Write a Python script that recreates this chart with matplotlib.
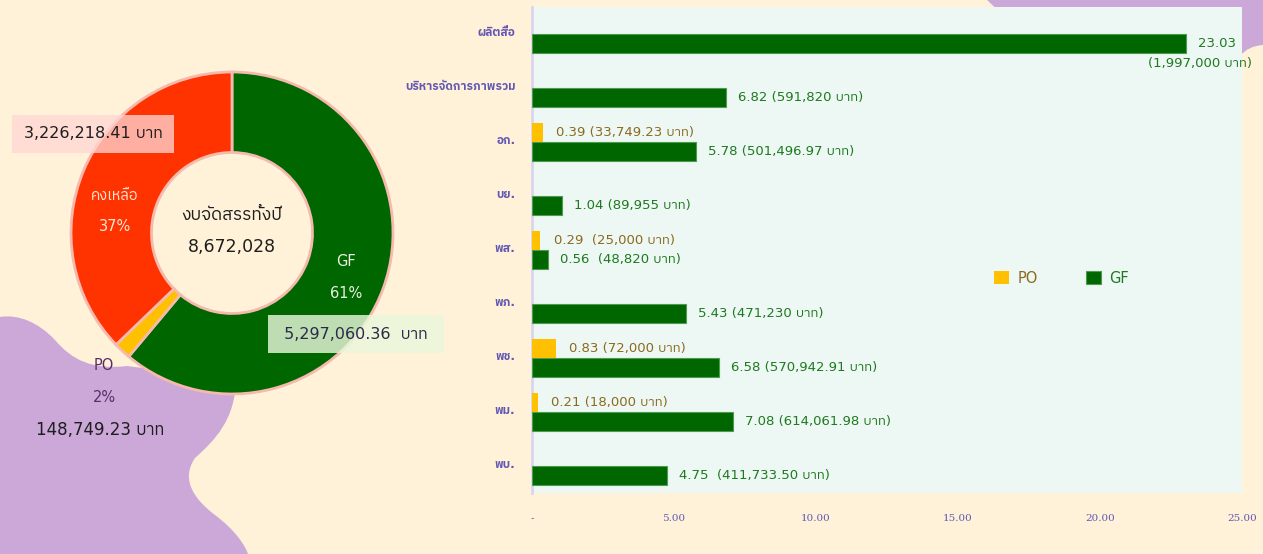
import matplotlib
matplotlib.use("Agg")
import matplotlib.pyplot as plt
import matplotlib.transforms as mtransforms
from matplotlib import font_manager, ft2font
from matplotlib.path import Path
from matplotlib.patches import PathPatch
import numpy as np

# ---------------- data ----------------
pie_labels = ["GF", "PO", "คงเหลือ"]
pie_values = [5297060.36, 148749.23, 3226218.41]
pie_pct = ["61%", "2%", "37%"]
pie_amounts = [" 5,297,060.36  บาท ", "148,749.23 บาท", "3,226,218.41 บาท"]
total_label = "8,672,028"
center_title = "งบจัดสรรทั้งปี"

categories = ["ผลิตสื่อ", "บริหารจัดการภาพรวม", "อก.", "บย.", "พส.", "พภ.", "พช.", "พม.", "พบ."]
gf_values = [23.03, 6.82, 5.78, 1.04, 0.56, 5.43, 6.58, 7.08, 4.75]
gf_baht = ["1,997,000", "591,820", "501,496.97", "89,955", "48,820", "471,230", "570,942.91", "614,061.98", "411,733.50"]
po_values = [0, 0, 0.39, 0, 0.29, 0, 0.83, 0.21, 0]
po_baht = ["", "", "33,749.23", "", "25,000", "", "72,000", "18,000", ""]
gap_sep = [" ", " ", " ", " ", "  ", " ", " ", " ", "  "]
po_sep = [" ", " ", " ", " ", "  ", " ", " ", " ", " "]
x_ticks = [0, 5, 10, 15, 20, 25]
x_ticklabels = ["-", "5.00", "10.00", "15.00", "20.00", "25.00"]

# ---------------- fonts ----------------
def find_thai_fonts():
    seen, names = set(), []
    for f in font_manager.fontManager.ttflist:
        if f.fname in seen:
            continue
        seen.add(f.fname)
        try:
            cm = ft2font.FT2Font(f.fname).get_charmap()
        except Exception:
            continue
        if 0x0E1A in cm and 0x0E32 in cm and 0x0E17 in cm:
            if f.name not in names:
                names.append(f.name)
    return names

thai = find_thai_fonts()
pref = [n for n in thai if "Thai" in n and "Looped" not in n] + thai
FAM = ["DejaVu Sans"] + pref[:2]
plt.rcParams["font.family"] = FAM

# ---------------- colors ----------------
BG = "#FFF2D8"
PURPLE = "#CBA8D8"
GREEN = "#006600"
YELLOW = "#FFC000"
RED = "#FF3300"
AX_BG = "#EDF7F4"
GF_TXT = "#1E7A1E"
PO_TXT = "#8B6A1E"
TICK_TXT = "#6258B4"

W, H = 1263, 554
fig = plt.figure(figsize=(W / 100, H / 100), dpi=100, facecolor=BG)

def px(x, y):
    return (x / W, 1 - y / H)

# decorative purple blobs (background)
blob = [((0, 554), Path.MOVETO), ((0, 317), Path.LINETO),
        ((18, 314), Path.CURVE4), ((38, 322), Path.CURVE4), ((55, 340), Path.CURVE4),
        ((72, 360), Path.CURVE4), ((92, 370), Path.CURVE4), ((127, 366), Path.CURVE4),
        ((236, 380), Path.LINETO),
        ((235, 420), Path.CURVE4), ((215, 440), Path.CURVE4), ((195, 458), Path.CURVE4),
        ((180, 480), Path.CURVE4), ((195, 500), Path.CURVE4), ((215, 515), Path.CURVE4),
        ((235, 530), Path.CURVE4), ((245, 545), Path.CURVE4), ((248, 554), Path.CURVE4),
        ((0, 554), Path.CLOSEPOLY)]
fig.patches.append(PathPatch(Path([px(*v) for v, c in blob], [c for v, c in blob]),
                             transform=fig.transFigure, facecolor=PURPLE,
                             edgecolor="none", zorder=-1))
blob2 = [((987, 0), Path.MOVETO), ((1263, 0), Path.LINETO), ((1263, 45), Path.LINETO),
         ((1248, 46), Path.CURVE3), ((1240, 56), Path.CURVE3),
         ((1000, 12), Path.LINETO), ((987, 0), Path.CLOSEPOLY)]
fig.patches.append(PathPatch(Path([px(*v) for v, c in blob2], [c for v, c in blob2]),
                             transform=fig.transFigure, facecolor=PURPLE,
                             edgecolor="none", zorder=-1))

# ---------------- donut ----------------
cx, cy, R = 232, 233, 161
axp = fig.add_axes([(cx - R) / W, (H - cy - R) / H, 2 * R / W, 2 * R / H])
axp.set_facecolor("none")
wedges, _ = axp.pie(pie_values, colors=[GREEN, YELLOW, RED], startangle=90,
                    counterclock=False, radius=1.0,
                    wedgeprops=dict(width=0.5, edgecolor="#F6B9AE", linewidth=2))
axp.set_xlim(-1, 1)
axp.set_ylim(-1, 1)
axp.set_aspect("equal")
axp.axis("off")

axp.text(0, 0.11, center_title, ha="center", va="center", fontsize=12.5, color="#1E1E1E")
axp.text(0, -0.09, total_label, ha="center", va="center", fontsize=12.5, color="#1E1E1E")

axp.text(0.71, -0.18, pie_labels[0], ha="center", va="center", fontsize=10.5, color="#EAF2E2")
axp.text(0.71, -0.375, pie_pct[0], ha="center", va="center", fontsize=10.5, color="#EAF2E2")
axp.text(-0.727, 0.236, pie_labels[2], ha="center", va="center", fontsize=10.5, color="#FFE6D8")
axp.text(-0.727, 0.04, pie_pct[2], ha="center", va="center", fontsize=10.5, color="#FFE6D8")
axp.text(-0.795, -0.82, pie_labels[1], ha="center", va="center", fontsize=10.5, color="#5A2D6A", clip_on=False)
axp.text(-0.795, -1.02, pie_pct[1], ha="center", va="center", fontsize=10.5, color="#5A2D6A", clip_on=False)
axp.text(-0.82, -1.225, pie_amounts[1], ha="center", va="center", fontsize=12, color="#1E1E1E", clip_on=False)

axp.text(-0.863, 0.615, pie_amounts[2], ha="center", va="center", fontsize=11.5, color="#1E1E1E",
         clip_on=False,
         bbox=dict(boxstyle="square,pad=0.72", facecolor="#FFD6D4", alpha=0.77, edgecolor="none"))
axp.text(0.77, -0.63, pie_amounts[0], ha="center", va="center", fontsize=11.5, color="#2A2A4A",
         clip_on=False,
         bbox=dict(boxstyle="square,pad=0.72", facecolor="#EAF8DB", alpha=0.82, edgecolor="none"))

# ---------------- bars ----------------
L, Rr, T, B = 532, 1242, 7, 493
ax = fig.add_axes([L / W, 1 - B / H, (Rr - L) / W, (B - T) / H])
ax.set_facecolor(AX_BG)
y = np.arange(len(categories))
bh = 0.355
ax.barh(y + 0.18, gf_values, height=bh, color=GREEN, edgecolor="#4E9A4E", linewidth=0.8, label="GF", zorder=3)
po_plot = [v if v > 0 else np.nan for v in po_values]
ax.barh(y - 0.18, po_plot, height=bh, color=YELLOW, edgecolor="none", label="PO", zorder=3)

ax.set_xlim(0, 25)
ax.set_ylim(len(categories) - 0.5, -0.5)
ax.set_xticks(x_ticks)
ax.set_xticklabels(x_ticklabels, family="DejaVu Serif", fontsize=7.5, color=TICK_TXT)
ax.set_yticks(y)
ax.set_yticklabels(categories, fontsize=8.5, color=TICK_TXT, fontweight="bold")
ax.tick_params(axis="both", length=0)
ax.tick_params(axis="x", pad=15)
ax.tick_params(axis="y", pad=12)
shift = mtransforms.ScaledTranslation(0, 3 / 100, fig.dpi_scale_trans)
for lab in ax.get_yticklabels():
    lab.set_transform(lab.get_transform() + shift)
for s in ["top", "right", "bottom"]:
    ax.spines[s].set_visible(False)
ax.spines["left"].set_color("#D9D5EE")
ax.spines["left"].set_linewidth(2)

off = 12 * 0.72
for i, v in enumerate(gf_values):
    if i == 0:
        ax.annotate(f"{v:.2f}", (v, y[i] + 0.18), xytext=(off, 0), textcoords="offset points",
                    ha="left", va="center", fontsize=9.5, color=GF_TXT, annotation_clip=False)
        ax.annotate(f"({gf_baht[i]} บาท)", (v, y[i] + 0.18), xytext=(10, -14), textcoords="offset points",
                    ha="center", va="center", fontsize=9.5, color=GF_TXT, annotation_clip=False)
    else:
        ax.annotate(f"{v:.2f}{gap_sep[i]}({gf_baht[i]} บาท)", (v, y[i] + 0.18), xytext=(off, 0),
                    textcoords="offset points", ha="left", va="center", fontsize=9.5,
                    color=GF_TXT, annotation_clip=False)
for i, v in enumerate(po_values):
    if v > 0:
        ax.annotate(f"{v:.2f}{po_sep[i]}({po_baht[i]} บาท)", (v, y[i] - 0.18), xytext=(off + 1, 0),
                    textcoords="offset points", ha="left", va="center", fontsize=9.5,
                    color=PO_TXT, annotation_clip=False)

h, l = ax.get_legend_handles_labels()
leg = ax.legend(h[::-1], l[::-1], loc="center", bbox_to_anchor=(0.746, 0.442), ncol=2,
                frameon=False, handlelength=1.0, handleheight=1.0, columnspacing=3.3,
                handletextpad=0.6, fontsize=10.5)
for t, c in zip(leg.get_texts(), [PO_TXT, GF_TXT]):
    t.set_color(c)

fig.savefig("out.png", dpi=100, facecolor=BG)
